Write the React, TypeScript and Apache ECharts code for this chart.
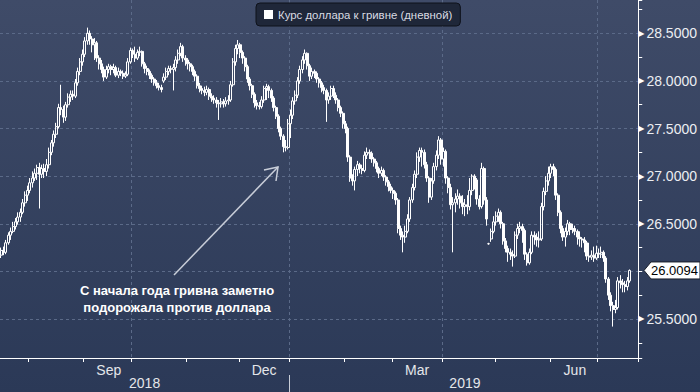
import React, { useEffect, useRef } from 'react';
import * as echarts from 'echarts';

// ---- data ----
const seriesName = 'Курс доллара к гривне (дневной)';
const firstDate = [2018, 6, 16]; // 16 Jul 2018 (UTC month is 0-based)
const categoryCount = 267; // weekdays shown on the axis
const labelMonths = ['2018-09', '2018-12', '2019-03', '2019-06'];
const labelTexts = ['Sep', 'Dec', 'Mar', 'Jun'];
const gridMonths = ['2018-10', '2019-01', '2019-04', '2019-07'];
const yearLabels = ['2018', '2019'];
const annotationLines = ['С начала года гривна заметно', 'подорожала против доллара'];
const lastValue = 26.0094;

// [open, close, low, high]
const ohlc: number[][] = [
  [26.17, 26.22, 26.14, 26.25], [26.22, 26.20, 26.17, 26.26], [26.20, 26.30, 26.18, 26.33], [26.30, 26.38, 26.28, 26.41],
  [26.38, 26.42, 26.33, 26.46], [26.42, 26.47, 26.40, 26.52], [26.47, 26.52, 26.44, 26.56], [26.52, 26.57, 26.49, 26.62],
  [26.57, 26.62, 26.52, 26.66], [26.62, 26.72, 26.60, 26.76], [26.72, 26.80, 26.68, 26.84], [26.80, 26.85, 26.74, 26.90],
  [26.85, 26.93, 26.82, 26.98], [26.93, 26.98, 26.88, 27.05], [26.98, 27.03, 26.95, 27.08], [27.03, 27.09, 26.96, 27.12],
  [27.09, 27.02, 26.66, 27.14], [27.02, 27.08, 26.98, 27.12], [27.08, 27.05, 26.98, 27.13], [27.05, 27.12, 27.00, 27.18],
  [27.12, 27.25, 27.08, 27.30], [27.25, 27.35, 27.22, 27.38], [27.35, 27.44, 27.31, 27.48], [27.44, 27.52, 27.40, 27.56],
  [27.52, 27.72, 27.50, 27.76], [27.72, 27.70, 27.64, 27.96], [27.70, 27.62, 27.56, 27.74], [27.62, 27.75, 27.58, 27.78],
  [27.75, 27.83, 27.72, 27.87], [27.83, 27.86, 27.78, 27.90], [27.86, 27.84, 27.80, 27.90], [27.84, 27.98, 27.82, 28.02],
  [27.98, 28.10, 27.95, 28.14], [28.10, 28.20, 28.06, 28.24], [28.20, 28.28, 28.16, 28.33], [28.28, 28.42, 28.25, 28.46],
  [28.42, 28.50, 28.38, 28.56], [28.50, 28.44, 28.38, 28.53], [28.44, 28.38, 28.30, 28.47], [28.38, 28.40, 28.22, 28.45],
  [28.40, 28.24, 28.20, 28.42], [28.24, 28.18, 28.12, 28.27], [28.18, 28.12, 28.08, 28.22], [28.12, 28.04, 28.00, 28.15],
  [28.04, 28.12, 28.02, 28.16], [28.12, 28.15, 28.08, 28.18], [28.15, 28.12, 28.06, 28.17], [28.12, 28.14, 28.08, 28.18],
  [28.14, 28.06, 28.04, 28.16], [28.06, 28.10, 28.03, 28.14], [28.10, 28.08, 28.05, 28.12], [28.08, 28.05, 28.02, 28.11],
  [28.05, 28.07, 28.03, 28.10], [28.07, 28.20, 28.05, 28.24], [28.20, 28.32, 28.18, 28.35], [28.32, 28.28, 28.24, 28.34],
  [28.28, 28.24, 28.20, 28.36], [28.24, 28.30, 28.22, 28.33], [28.30, 28.31, 28.26, 28.36], [28.31, 28.18, 28.15, 28.32],
  [28.18, 28.13, 28.08, 28.20], [28.13, 28.10, 28.06, 28.16], [28.10, 28.06, 28.02, 28.12], [28.06, 28.02, 27.98, 28.08],
  [28.02, 27.98, 27.95, 28.04], [27.98, 27.95, 27.92, 28.01], [27.95, 27.93, 27.90, 27.98], [27.93, 27.91, 27.88, 27.96],
  [28.00, 28.04, 27.98, 28.08], [28.04, 28.10, 28.01, 28.14], [28.10, 28.13, 28.06, 28.16], [28.13, 28.12, 28.08, 28.16],
  [28.12, 28.14, 27.90, 28.18], [28.14, 28.22, 28.10, 28.26], [28.22, 28.29, 28.18, 28.33], [28.29, 28.36, 28.26, 28.40],
  [28.36, 28.24, 28.20, 28.38], [28.24, 28.22, 28.16, 28.27], [28.22, 28.18, 28.12, 28.24], [28.18, 28.15, 28.10, 28.20],
  [28.15, 28.10, 28.06, 28.17], [28.10, 28.05, 28.00, 28.12], [28.05, 27.95, 27.92, 28.07], [27.95, 27.92, 27.88, 27.98],
  [27.92, 27.90, 27.86, 27.95], [27.90, 27.88, 27.84, 27.94], [27.88, 27.91, 27.85, 27.95], [27.91, 27.84, 27.80, 27.93],
  [27.84, 27.82, 27.78, 27.87], [27.82, 27.80, 27.76, 27.85], [27.80, 27.77, 27.72, 27.83], [27.77, 27.76, 27.59, 27.80],
  [27.76, 27.78, 27.72, 27.82], [27.78, 27.76, 27.72, 27.81], [27.76, 27.79, 27.73, 27.83], [27.79, 27.80, 27.75, 27.85],
  [27.80, 27.96, 27.78, 28.00], [27.96, 28.20, 27.94, 28.24], [28.20, 28.34, 28.16, 28.38], [28.34, 28.38, 28.28, 28.43],
  [28.38, 28.30, 28.24, 28.40], [28.30, 28.24, 28.18, 28.32], [28.24, 28.15, 28.10, 28.26], [28.15, 28.02, 27.98, 28.17],
  [28.02, 27.95, 27.90, 28.04], [27.95, 27.86, 27.82, 27.97], [27.86, 27.77, 27.72, 27.88], [27.77, 27.74, 27.70, 27.80],
  [27.74, 27.73, 27.70, 27.78], [27.73, 27.80, 27.71, 27.84], [27.80, 27.92, 27.77, 27.95], [27.92, 27.94, 27.80, 27.97],
  [27.94, 27.90, 27.82, 27.96], [27.90, 27.82, 27.78, 27.92], [27.82, 27.72, 27.68, 27.84], [27.72, 27.63, 27.60, 27.74],
  [27.63, 27.50, 27.46, 27.65], [27.50, 27.42, 27.38, 27.52], [27.42, 27.31, 27.25, 27.44], [27.31, 27.30, 27.26, 27.38],
  [27.30, 27.55, 27.28, 27.60], [27.55, 27.64, 27.40, 27.70], [27.64, 27.79, 27.60, 27.83], [27.79, 27.85, 27.75, 27.90],
  [27.85, 28.00, 27.82, 28.04], [28.00, 28.12, 27.97, 28.16], [28.12, 28.22, 28.08, 28.26], [28.22, 28.29, 28.18, 28.33],
  [28.29, 28.16, 28.12, 28.30], [28.16, 28.05, 28.00, 28.18], [28.05, 28.10, 28.02, 28.14], [28.10, 28.08, 28.03, 28.12],
  [28.08, 28.02, 27.98, 28.10], [28.02, 27.98, 27.93, 28.04], [27.98, 27.93, 27.88, 28.00], [27.93, 27.90, 27.86, 27.96],
  [27.90, 27.80, 27.57, 27.92], [27.80, 27.84, 27.76, 27.88], [27.84, 27.92, 27.80, 27.95], [27.92, 27.85, 27.82, 27.95],
  [27.85, 27.80, 27.76, 27.88], [27.80, 27.72, 27.68, 27.82], [27.72, 27.66, 27.62, 27.74], [27.66, 27.55, 27.50, 27.68],
  [27.55, 27.50, 27.45, 27.58], [27.50, 27.20, 27.15, 27.52], [27.20, 26.98, 26.94, 27.22], [26.98, 26.95, 26.90, 27.02],
  [26.95, 27.07, 26.85, 27.10], [27.07, 27.12, 27.00, 27.16], [27.12, 27.08, 27.03, 27.14], [27.08, 27.06, 27.02, 27.12],
  [27.06, 27.22, 27.04, 27.26], [27.22, 27.25, 27.18, 27.30], [27.25, 27.24, 27.18, 27.28], [27.24, 27.18, 27.14, 27.26],
  [27.18, 27.14, 27.10, 27.20], [27.14, 27.08, 27.04, 27.16], [27.08, 27.03, 26.98, 27.10], [27.03, 27.06, 27.00, 27.10],
  [27.06, 26.99, 26.95, 27.08], [26.99, 26.94, 26.90, 27.01], [26.94, 26.89, 26.84, 26.96], [26.89, 26.85, 26.82, 26.92],
  [26.85, 26.82, 26.76, 26.88], [26.82, 26.75, 26.70, 26.84], [26.75, 26.45, 26.40, 26.77], [26.45, 26.38, 26.33, 26.48],
  [26.38, 26.36, 26.20, 26.42], [26.36, 26.42, 26.30, 26.48], [26.42, 26.55, 26.40, 26.60], [26.55, 26.75, 26.52, 26.78],
  [26.75, 26.88, 26.72, 26.92], [26.88, 27.02, 26.85, 27.06], [27.02, 27.20, 26.98, 27.25], [27.20, 27.27, 27.15, 27.30],
  [27.27, 27.25, 27.10, 27.30], [27.25, 27.12, 27.08, 27.28], [27.12, 26.98, 26.94, 27.15], [26.98, 26.78, 26.72, 27.00],
  [26.78, 26.95, 26.75, 26.98], [26.95, 27.10, 26.92, 27.14], [27.10, 27.22, 27.06, 27.27], [27.22, 27.38, 27.18, 27.42],
  [27.38, 27.18, 27.12, 27.40], [27.18, 27.26, 27.10, 27.30], [27.26, 26.98, 26.92, 27.28], [26.98, 26.88, 26.82, 27.00],
  [26.88, 26.70, 26.65, 26.92], [26.70, 26.72, 26.20, 26.78], [26.72, 26.76, 26.62, 26.82], [26.76, 26.79, 26.70, 26.86],
  [26.79, 26.72, 26.66, 26.82], [26.72, 26.68, 26.60, 26.80], [26.68, 26.70, 26.58, 26.76], [26.70, 26.68, 26.60, 26.80],
  [26.68, 26.85, 26.64, 26.98], [26.85, 27.00, 26.80, 27.02], [27.00, 26.96, 26.86, 27.02], [26.96, 26.76, 26.70, 26.98],
  [26.76, 26.68, 26.65, 26.80], [26.68, 27.08, 26.66, 27.14], [27.08, 26.75, 26.70, 27.10], [26.75, 26.55, 26.48, 26.78],
  [26.29, 26.29, 26.28, 26.30], [26.34, 26.42, 26.31, 26.45], [26.42, 26.52, 26.40, 26.58], [26.52, 26.58, 26.48, 26.63],
  [26.58, 26.62, 26.52, 26.66], [26.62, 26.50, 26.45, 26.64], [26.50, 26.32, 26.28, 26.52], [26.32, 26.24, 26.20, 26.35],
  [26.24, 26.20, 26.10, 26.27], [26.20, 26.18, 26.12, 26.24], [26.18, 26.16, 26.05, 26.22], [26.16, 26.38, 26.14, 26.42],
  [26.38, 26.45, 26.34, 26.50], [26.45, 26.47, 26.40, 26.52], [26.47, 26.43, 26.30, 26.50], [26.43, 26.18, 26.12, 26.45],
  [26.18, 26.09, 26.06, 26.20], [26.09, 26.20, 26.07, 26.24], [26.20, 26.38, 26.18, 26.42], [26.38, 26.36, 26.28, 26.42],
  [26.36, 26.33, 26.26, 26.40], [26.33, 26.34, 26.25, 26.42], [26.34, 26.68, 26.32, 26.72], [26.68, 26.84, 26.64, 26.88],
  [26.84, 26.95, 26.80, 27.00], [26.95, 27.03, 26.90, 27.10], [27.03, 27.10, 26.98, 27.13], [27.10, 27.07, 27.00, 27.13],
  [27.07, 26.80, 26.75, 27.09], [26.80, 26.62, 26.58, 26.82], [26.62, 26.45, 26.40, 26.64], [26.45, 26.36, 26.32, 26.48],
  [26.36, 26.42, 26.26, 26.46], [26.42, 26.50, 26.38, 26.54], [26.50, 26.44, 26.38, 26.52], [26.44, 26.45, 26.40, 26.50],
  [26.45, 26.42, 26.38, 26.48], [26.42, 26.36, 26.28, 26.44], [26.36, 26.34, 26.26, 26.42], [26.34, 26.33, 26.25, 26.36],
  [26.33, 26.30, 26.20, 26.36], [26.30, 26.16, 26.12, 26.32], [26.16, 26.15, 26.10, 26.30], [26.15, 26.17, 26.12, 26.22],
  [26.17, 26.14, 26.10, 26.26], [26.14, 26.19, 26.12, 26.27], [26.19, 26.18, 26.14, 26.24], [26.18, 26.20, 26.14, 26.26],
  [26.20, 26.14, 26.10, 26.22], [26.14, 25.92, 25.88, 26.16], [25.92, 25.75, 25.70, 25.94], [25.75, 25.64, 25.58, 25.78],
  [25.64, 25.60, 25.42, 25.68], [25.60, 25.62, 25.56, 25.70], [25.62, 25.90, 25.60, 25.94], [25.90, 25.88, 25.82, 25.96],
  [25.88, 25.86, 25.78, 25.92], [25.86, 25.84, 25.78, 25.90], [25.84, 25.90, 25.80, 25.94], [25.90, 26.0094, 25.88, 26.02],
];

// ---- helpers ----
function buildDates(): string[] {
  const out: string[] = [];
  const d = new Date(Date.UTC(firstDate[0], firstDate[1], firstDate[2]));
  while (out.length < categoryCount) {
    const wd = d.getUTCDay();
    if (wd !== 0 && wd !== 6) out.push(d.toISOString().slice(0, 10));
    d.setUTCDate(d.getUTCDate() + 1);
  }
  return out;
}

const axisFont = "'Liberation Sans Narrow', 'Liberation Sans', Arial, sans-serif";
const textFont = "'Liberation Sans', Arial, sans-serif";
const gridLineStyle = { color: '#5b6a88', width: 1, type: [3, 3] as any };

export default function App() {
  const ref = useRef<HTMLDivElement>(null);

  useEffect(() => {
    if (!ref.current) return;
    const chart = echarts.init(ref.current, undefined, { renderer: 'svg' });

    const dates = buildDates();
    const ym = dates.map((s) => s.slice(0, 7));
    const monthStart = new Set<number>();
    ym.forEach((m, i) => {
      if (i > 0 && m !== ym[i - 1]) monthStart.add(i);
    });
    const gridStart = new Set<number>();
    ym.forEach((m, i) => {
      if (i > 0 && m !== ym[i - 1] && gridMonths.includes(m)) gridStart.add(i);
    });
    const labelIdx = new Map<number, string>();
    labelMonths.forEach((m, k) => {
      const idx = ym.map((v, i) => (v === m ? i : -1)).filter((i) => i >= 0);
      labelIdx.set(Math.round((idx[0] + idx[idx.length - 1]) / 2), labelTexts[k]);
    });
    const yearIdx = new Map<number, string>();
    yearLabels.forEach((y) => {
      const idx = dates.map((v, i) => (v.startsWith(y) ? i : -1)).filter((i) => i >= 0);
      yearIdx.set(Math.round((idx[0] + idx[idx.length - 1]) / 2), y);
    });
    const firstOf2019 = dates.findIndex((d) => d.startsWith(yearLabels[1]));

    chart.setOption({
      animation: false,
      backgroundColor: 'transparent',
      grid: { left: 0, right: 58, top: 0, bottom: 34, containLabel: false },
      legend: {
        left: 256,
        top: 3,
        padding: [6, 8, 6, 8],
        backgroundColor: '#1f2739',
        borderColor: '#0e121b',
        borderWidth: 1,
        borderRadius: 4,
        itemWidth: 9,
        itemHeight: 9,
        selectedMode: false,
        textStyle: { color: '#d8dbe2', fontSize: 11.4, fontFamily: textFont },
        data: [{ name: seriesName, icon: 'rect', itemStyle: { color: '#ffffff', borderWidth: 0 } }],
      },
      xAxis: [
        {
          type: 'category',
          data: dates,
          boundaryGap: true,
          axisLine: { show: true, lineStyle: { color: '#ffffff', width: 1 } },
          axisTick: { show: true, interval: (i: number) => monthStart.has(i), length: 4, lineStyle: { color: '#ffffff' } },
          axisLabel: {
            interval: (i: number) => labelIdx.has(i),
            formatter: (_v: string, i: number) => labelIdx.get(i) || '',
            margin: 5,
            color: '#e4e6ea',
            fontSize: 14,
            fontFamily: axisFont,
          },
          splitLine: { show: true, interval: (i: number) => gridStart.has(i), showMaxLine: false, lineStyle: gridLineStyle },
        },
        {
          type: 'category',
          data: dates,
          position: 'bottom',
          offset: 13,
          boundaryGap: true,
          axisLine: { show: false },
          axisTick: { show: false },
          splitLine: { show: false },
          axisLabel: {
            interval: (i: number) => yearIdx.has(i),
            formatter: (_v: string, i: number) => yearIdx.get(i) || '',
            margin: 5,
            color: '#e4e6ea',
            fontSize: 14,
            fontFamily: axisFont,
          },
        },
      ],
      yAxis: [
        {
          type: 'value',
          position: 'right',
          min: 25.09,
          max: 28.85,
          minInterval: 0.5,
          maxInterval: 0.5,
          axisLine: { show: true, lineStyle: { color: '#ffffff', width: 1 } },
          axisTick: { show: false },
          axisLabel: {
            showMinLabel: false,
            showMaxLabel: false,
            margin: 0,
            // the tick next to the last price is covered by the last-price tag
            formatter: (v: number) =>
              Math.abs(v - Math.round(lastValue * 2) / 2) < 1e-6 ? '' : `{t|▶}{v|${v.toFixed(4)}}`,
            rich: {
              t: { fontSize: 8, color: '#ffffff', padding: [0, 2, 0, 0], fontFamily: 'DejaVu Sans' },
              v: { fontSize: 14, color: '#eceef2', fontFamily: axisFont },
            },
          },
          splitLine: { show: true, showMinLine: false, showMaxLine: false, lineStyle: gridLineStyle },
        },
        {
          type: 'value',
          position: 'right',
          min: 25.09,
          max: 28.85,
          minInterval: 0.25,
          maxInterval: 0.25,
          axisLine: { show: false },
          axisTick: { show: true, length: 4, lineStyle: { color: '#ffffff' } },
          axisLabel: { show: false },
          splitLine: { show: false },
        },
      ],
      series: [
        {
          type: 'candlestick',
          name: seriesName,
          xAxisIndex: 0,
          yAxisIndex: 0,
          data: ohlc,
          barWidth: 2.5,
          itemStyle: {
            color: 'rgba(0,0,0,0)',
            color0: '#ffffff',
            borderColor: '#ffffff',
            borderColor0: '#ffffff',
            borderWidth: 1,
          },
        },
      ],
    });

    // pixel positions from the chart's own scales
    const x0 = chart.convertToPixel({ xAxisIndex: 0 }, dates[0]) as number;
    const x1 = chart.convertToPixel({ xAxisIndex: 0 }, dates[1]) as number;
    const band = x1 - x0;
    const sepX = Math.round((chart.convertToPixel({ xAxisIndex: 0 }, dates[firstOf2019]) as number) - band / 2) + 0.5;
    const yLast = chart.convertToPixel({ yAxisIndex: 0 }, lastValue) as number;
    const axisX = 642;

    chart.setOption({
      graphic: [
        {
          type: 'line',
          id: 'yearSep',
          shape: { x1: sepX, y1: 375, x2: sepX, y2: 392 },
          style: { stroke: '#c9ced8', lineWidth: 1 },
        },
        {
          type: 'polygon',
          id: 'lastBox',
          shape: {
            points: [
              [axisX + 2, yLast],
              [axisX + 9, yLast - 8.5],
              [700, yLast - 8.5],
              [700, yLast + 8.5],
              [axisX + 9, yLast + 8.5],
            ],
          },
          style: { fill: '#ffffff', stroke: '#1a1f2b', lineWidth: 1 },
        },
        {
          type: 'text',
          id: 'lastText',
          x: axisX + 9,
          y: yLast,
          style: {
            text: lastValue.toFixed(4),
            fill: '#000000',
            fontSize: 13,
            fontFamily: axisFont,
            verticalAlign: 'middle',
            align: 'left',
          },
        },
        {
          type: 'text',
          id: 'note',
          x: 177,
          y: 299,
          style: {
            text: annotationLines.join('\n'),
            fill: '#ffffff',
            fontSize: 13,
            fontWeight: 'bold',
            fontFamily: textFont,
            align: 'center',
            verticalAlign: 'middle',
            lineHeight: 17,
          },
        },
        {
          type: 'line',
          id: 'arrowShaft',
          shape: { x1: 174, y1: 275, x2: 278, y2: 167 },
          style: { stroke: '#c8cdd8', lineWidth: 1.5 },
        },
        {
          type: 'polyline',
          id: 'arrowHead',
          shape: { points: [[264, 170], [278, 167], [276, 181]] },
          style: { stroke: '#c8cdd8', lineWidth: 1.5, fill: null },
        },
      ],
    });

    return () => chart.dispose();
  }, []);

  return (
    <div
      ref={ref}
      style={{
        position: 'fixed',
        left: 0,
        top: 0,
        width: 700,
        height: 392,
        background: 'linear-gradient(180deg, #3f4b68 0%, #2b3957 100%)',
      }}
    />
  );
}
